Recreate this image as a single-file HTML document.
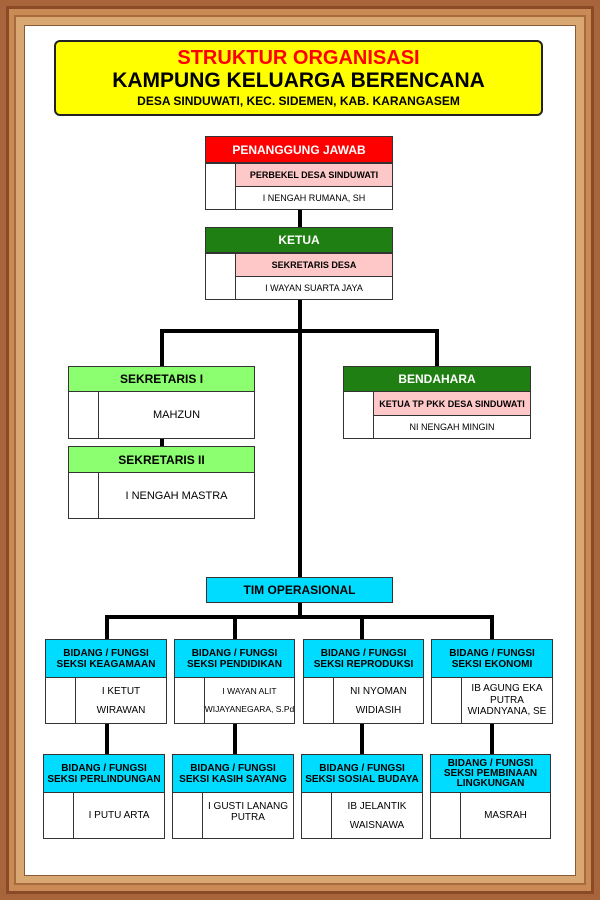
<!DOCTYPE html>
<html><head><meta charset="utf-8"><style>
*{margin:0;padding:0;box-sizing:border-box}
body{width:600px;height:900px;position:relative;overflow:hidden;font-family:"Liberation Sans",Arial,sans-serif;font-weight:bold;background:#a8643a}
.a{position:absolute}
.frame1{left:6px;top:6px;width:588px;height:888px;background:#c98a55;border:3px solid #8a4a25}
.frame2{left:14px;top:15px;width:572px;height:870px;background:#d9a872;border:2px solid #a66a3c}
.white{left:24px;top:25px;width:552px;height:851px;background:#fff;border:1px solid #8a5a36}
.box{position:absolute;border:1.5px solid #333;display:flex;align-items:center;justify-content:center;text-align:center;color:#000}
.ln{position:absolute;background:#000}
</style></head><body>
<div class="a frame1"></div><div class="a frame2"></div><div class="a white"></div>

<div class="box" style="left:54px;top:40px;width:489px;height:76px;background:#ffff00;border:2px solid #222;border-radius:6px;flex-direction:column;line-height:1">
<div style="color:#ff0000;font-size:20px;margin-top:-2px">STRUKTUR ORGANISASI</div>
<div style="font-size:21px;margin-top:2px">KAMPUNG KELUARGA BERENCANA</div>
<div style="font-size:12px;margin-top:4px">DESA SINDUWATI, KEC. SIDEMEN, KAB. KARANGASEM</div>
</div>

<!-- lines -->
<div class="ln" style="left:298px;top:210px;width:4px;height:17px"></div>
<div class="ln" style="left:298px;top:300px;width:4px;height:277px"></div>
<div class="ln" style="left:160px;top:329px;width:279px;height:4px"></div>
<div class="ln" style="left:160px;top:329px;width:4px;height:37px"></div>
<div class="ln" style="left:435px;top:329px;width:4px;height:37px"></div>
<div class="ln" style="left:160px;top:438px;width:4px;height:9px"></div>
<div class="ln" style="left:298px;top:602px;width:4px;height:15px"></div>
<div class="ln" style="left:105px;top:615px;width:389px;height:4px"></div>
<div class="ln" style="left:105px;top:615px;width:4px;height:24px"></div>
<div class="ln" style="left:233px;top:615px;width:4px;height:24px"></div>
<div class="ln" style="left:360px;top:615px;width:4px;height:24px"></div>
<div class="ln" style="left:490px;top:615px;width:4px;height:24px"></div>
<div class="ln" style="left:105px;top:724px;width:4px;height:30px"></div>
<div class="ln" style="left:233px;top:724px;width:4px;height:30px"></div>
<div class="ln" style="left:360px;top:724px;width:4px;height:30px"></div>
<div class="ln" style="left:490px;top:724px;width:4px;height:30px"></div>

<!-- Penanggung jawab -->
<div class="box" style="left:205px;top:136px;width:188px;height:27px;background:#ff0000;color:#fff;font-size:12px">PENANGGUNG JAWAB</div>
<div class="box" style="left:205px;top:163px;width:31px;height:47px;background:#fff"></div>
<div class="box" style="left:235px;top:163px;width:158px;height:24px;background:#ffc8c8;font-size:9px">PERBEKEL DESA SINDUWATI</div>
<div class="box" style="left:235px;top:186px;width:158px;height:24px;background:#fff;font-size:9px;font-weight:normal">I NENGAH RUMANA, SH</div>

<!-- Ketua -->
<div class="box" style="left:205px;top:227px;width:188px;height:26px;background:#1f7f12;color:#fff;font-size:12px">KETUA</div>
<div class="box" style="left:205px;top:253px;width:31px;height:47px;background:#fff"></div>
<div class="box" style="left:235px;top:253px;width:158px;height:24px;background:#ffc8c8;font-size:9px">SEKRETARIS DESA</div>
<div class="box" style="left:235px;top:276px;width:158px;height:24px;background:#fff;font-size:9px;font-weight:normal">I WAYAN SUARTA JAYA</div>

<!-- Sekretaris I -->
<div class="box" style="left:68px;top:366px;width:187px;height:26px;background:#8cff70;font-size:12px">SEKRETARIS I</div>
<div class="box" style="left:68px;top:391px;width:31px;height:48px;background:#fff"></div>
<div class="box" style="left:98px;top:391px;width:157px;height:48px;background:#fff;font-size:11px;font-weight:normal">MAHZUN</div>
<!-- Sekretaris II -->
<div class="box" style="left:68px;top:446px;width:187px;height:27px;background:#8cff70;font-size:12px">SEKRETARIS II</div>
<div class="box" style="left:68px;top:472px;width:31px;height:47px;background:#fff"></div>
<div class="box" style="left:98px;top:472px;width:157px;height:47px;background:#fff;font-size:11px;font-weight:normal">I NENGAH MASTRA</div>

<!-- Bendahara -->
<div class="box" style="left:343px;top:366px;width:188px;height:26px;background:#1f7f12;color:#fff;font-size:12px">BENDAHARA</div>
<div class="box" style="left:343px;top:391px;width:31px;height:48px;background:#fff"></div>
<div class="box" style="left:373px;top:391px;width:158px;height:25px;background:#ffc8c8;font-size:9px">KETUA TP PKK DESA SINDUWATI</div>
<div class="box" style="left:373px;top:415px;width:158px;height:24px;background:#fff;font-size:9px;font-weight:normal">NI NENGAH MINGIN</div>

<!-- Tim -->
<div class="box" style="left:206px;top:577px;width:187px;height:26px;background:#00dcff;font-size:12px">TIM OPERASIONAL</div>

<!-- Row 1 -->
<div class="box" style="left:45px;top:639px;width:122px;height:39px;background:#00dcff;font-size:10px;line-height:1.1">BIDANG / FUNGSI<br>SEKSI KEAGAMAAN</div>
<div class="box" style="left:45px;top:677px;width:31px;height:47px;background:#fff"></div>
<div class="box" style="left:75px;top:677px;width:92px;height:47px;background:#fff;font-size:10px;font-weight:normal;line-height:1.9">I KETUT<br>WIRAWAN</div>

<div class="box" style="left:174px;top:639px;width:121px;height:39px;background:#00dcff;font-size:10px;line-height:1.1">BIDANG / FUNGSI<br>SEKSI PENDIDIKAN</div>
<div class="box" style="left:174px;top:677px;width:31px;height:47px;background:#fff"></div>
<div class="box" style="left:204px;top:677px;width:91px;height:47px;background:#fff;font-size:8.5px;font-weight:normal;line-height:2.1;white-space:nowrap">I WAYAN ALIT<br>WIJAYANEGARA, S.Pd</div>

<div class="box" style="left:303px;top:639px;width:121px;height:39px;background:#00dcff;font-size:10px;line-height:1.1">BIDANG / FUNGSI<br>SEKSI REPRODUKSI</div>
<div class="box" style="left:303px;top:677px;width:31px;height:47px;background:#fff"></div>
<div class="box" style="left:333px;top:677px;width:91px;height:47px;background:#fff;font-size:10px;font-weight:normal;line-height:1.9">NI NYOMAN<br>WIDIASIH</div>

<div class="box" style="left:431px;top:639px;width:122px;height:39px;background:#00dcff;font-size:10px;line-height:1.1">BIDANG / FUNGSI<br>SEKSI EKONOMI</div>
<div class="box" style="left:431px;top:677px;width:31px;height:47px;background:#fff"></div>
<div class="box" style="left:461px;top:677px;width:92px;height:47px;background:#fff;font-size:10px;font-weight:normal;line-height:1.15">IB AGUNG EKA<br>PUTRA<br>WIADNYANA, SE</div>

<!-- Row 2 -->
<div class="box" style="left:43px;top:754px;width:122px;height:39px;background:#00dcff;font-size:10px;line-height:1.1">BIDANG / FUNGSI<br>SEKSI PERLINDUNGAN</div>
<div class="box" style="left:43px;top:792px;width:31px;height:47px;background:#fff"></div>
<div class="box" style="left:73px;top:792px;width:92px;height:47px;background:#fff;font-size:10px;font-weight:normal">I PUTU ARTA</div>

<div class="box" style="left:172px;top:754px;width:122px;height:39px;background:#00dcff;font-size:10px;line-height:1.1">BIDANG / FUNGSI<br>SEKSI KASIH SAYANG</div>
<div class="box" style="left:172px;top:792px;width:31px;height:47px;background:#fff"></div>
<div class="box" style="left:202px;top:792px;width:92px;height:47px;background:#fff;font-size:10px;font-weight:normal;line-height:1.1;padding-bottom:8px">I GUSTI LANANG<br>PUTRA</div>

<div class="box" style="left:301px;top:754px;width:122px;height:39px;background:#00dcff;font-size:10px;line-height:1.1">BIDANG / FUNGSI<br>SEKSI SOSIAL BUDAYA</div>
<div class="box" style="left:301px;top:792px;width:31px;height:47px;background:#fff"></div>
<div class="box" style="left:331px;top:792px;width:92px;height:47px;background:#fff;font-size:10px;font-weight:normal;line-height:1.9">IB JELANTIK<br>WAISNAWA</div>

<div class="box" style="left:430px;top:754px;width:121px;height:39px;background:#00dcff;font-size:10px;line-height:1.0">BIDANG / FUNGSI<br>SEKSI PEMBINAAN<br>LINGKUNGAN</div>
<div class="box" style="left:430px;top:792px;width:31px;height:47px;background:#fff"></div>
<div class="box" style="left:460px;top:792px;width:91px;height:47px;background:#fff;font-size:10px;font-weight:normal">MASRAH</div>
</body></html>
